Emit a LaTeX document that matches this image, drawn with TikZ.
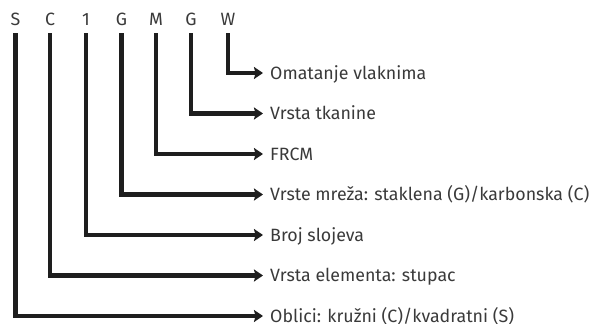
\documentclass[tikz,border=0pt]{standalone}
\usepackage{fontspec}
\setmainfont{Fira Sans}
\usetikzlibrary{arrows.meta}
\definecolor{txt}{HTML}{3A3A3A}
\definecolor{ln}{HTML}{1E1E1E}
\begin{document}
\begin{tikzpicture}[x=1pt,y=1pt,
  code/.style={font=\fontsize{17.8}{20}\selectfont, text=txt, inner sep=0pt, anchor=base, text depth=0pt},
  lab/.style={font=\fontsize{17.8}{20}\selectfont, text=txt, inner sep=0pt, anchor=west, text height=12.4pt, text depth=0pt},
  conn/.style={draw=ln, line width=4.6pt, -{Stealth[length=9pt,width=12pt,inset=1.5pt]}, shorten <=8pt, shorten >=7pt}]
\useasboundingbox (0,0) rectangle (595,-324);
\node[code] (c1) at (15.5,-25) {S};
\node[code] (c2) at (50,-25) {C};
\node[code] (c3) at (86,-25) {1};
\node[code] (c4) at (121.5,-25) {G};
\node[code] (c5) at (156,-25) {M};
\node[code] (c6) at (191,-25) {G};
\node[code] (c7) at (228,-25) {W};
\node[lab] (l7) at (270,-73) {Omatanje vlaknima};
\node[lab] (l6) at (270,-113.5) {Vrsta tkanine};
\node[lab] (l5) at (270,-154) {FRCM};
\node[lab] (l4) at (270,-194.5) {Vrste mreža: staklena (G)/karbonska (C)};
\node[lab] (l3) at (270,-235) {Broj slojeva};
\node[lab] (l2) at (270,-275.5) {Vrsta elementa: stupac};
\node[lab] (l1) at (270,-316) {Oblici: kružni (C)/kvadratni (S)};
\foreach \i in {1,...,7}{\draw[conn] (c\i.south) |- (l\i.west);}
\end{tikzpicture}
\end{document}
